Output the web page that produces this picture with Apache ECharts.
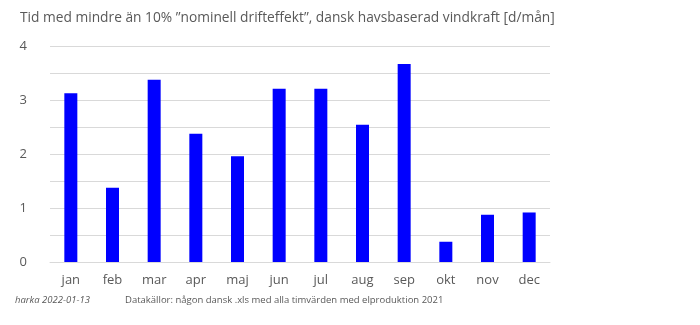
<!DOCTYPE html>
<html><head><meta charset="utf-8">
<script src="https://cdn.jsdelivr.net/npm/echarts@6/dist/echarts.min.js"></script>
<style>html,body{margin:0;padding:0;background:#fff}#c{width:700px;height:325px}</style>
</head><body><div id="c"></div>
<script>
const categories = ['jan','feb','mar','apr','maj','jun','jul','aug','sep','okt','nov','dec'];
const values = [3.125, 1.375, 3.375, 2.375, 1.958, 3.208, 3.208, 2.542, 3.667, 0.375, 0.875, 0.917];
const titleText = 'Tid med mindre än 10% ”nominell drifteffekt”, dansk havsbaserad vindkraft [d/mån]';
const footerAuthor = 'harka 2022-01-13';
const footerSource = 'Datakällor: någon dansk .xls med alla timvärden med elproduktion 2021';
const FONT = 'Open Sans';
const chart = echarts.init(document.getElementById('c'), null, {renderer:'canvas'});
chart.setOption({
  animation:false,
  title:{text:titleText,left:15,top:6,textStyle:{fontFamily:FONT,fontSize:13.75,fontWeight:'normal',color:'#595959'}},
  grid:{left:50,right:150,top:46,bottom:63},
  xAxis:{type:'category',data:categories,axisLine:{lineStyle:{color:'#d9d9d9'}},axisTick:{show:false},
    axisLabel:{fontFamily:FONT,fontSize:13,color:'#595959',margin:12}},
  yAxis:{type:'value',min:0,max:4,interval:0.5,axisLine:{show:false},axisTick:{show:false},
    splitLine:{lineStyle:{color:'#d9d9d9'}},
    axisLabel:{fontFamily:FONT,fontSize:13,color:'#595959',margin:23,formatter:v=>Number.isInteger(v)?String(v):''}},
  series:[{type:'bar',data:values,barWidth:13,itemStyle:{color:'#0000ff'}}],
  graphic:[
    {type:'text',left:15,top:295,style:{text:footerAuthor,fontFamily:FONT,fontSize:9.5,fontStyle:'italic',fill:'#595959'}},
    {type:'text',left:125,top:295,style:{text:footerSource,fontFamily:FONT,fontSize:9.5,fill:'#595959'}}
  ]
});
</script></body></html>
